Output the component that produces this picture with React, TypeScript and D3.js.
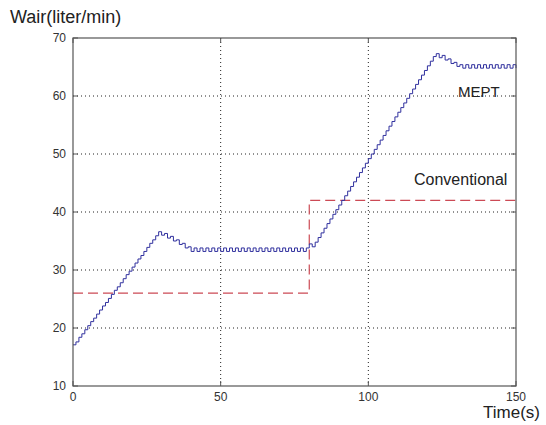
import { useEffect, useRef } from 'react';
import * as d3 from 'd3';

// sample times (s), one sample per second
const sampleTimes = d3.range(0, 151);

// MEPT air flow, liter/min, read at each second
const meptFlow = [
  17.1, 17.6, 18.4, 19.0, 19.7, 20.4, 21.1, 21.7, 22.4, 23.1,
  23.8, 24.4, 25.1, 25.8, 26.5, 27.1, 27.8, 28.5, 29.2, 29.8,
  30.5, 31.2, 31.9, 32.5, 33.2, 33.9, 34.6, 35.2, 35.9, 36.6,
  36.0, 36.3, 35.5, 35.8, 35.0, 35.2, 34.4, 34.6, 33.8, 34.0, 33.2,
  33.8, 33.2, 33.8, 33.2, 33.8, 33.2, 33.8, 33.2, 33.8, 33.2,
  33.8, 33.2, 33.8, 33.2, 33.8, 33.2, 33.8, 33.2, 33.8, 33.2,
  33.8, 33.2, 33.8, 33.2, 33.8, 33.2, 33.8, 33.2, 33.8, 33.2,
  33.8, 33.2, 33.8, 33.2, 33.8, 33.2, 33.8, 33.2, 33.8,
  34.5, 34.0,
  34.8, 35.6, 36.4, 37.2, 38.0, 38.8, 39.6, 40.4, 41.2, 42.0,
  42.8, 43.6, 44.4, 45.2, 46.0, 46.8, 47.6, 48.4, 49.2, 50.0,
  50.8, 51.6, 52.4, 53.2, 54.0, 54.8, 55.6, 56.4, 57.2, 58.0,
  58.8, 59.6, 60.4, 61.2, 62.0, 62.8, 63.6, 64.4, 65.2, 66.0, 66.8,
  67.3,
  66.6, 67.0, 66.2, 66.4, 65.6, 65.8, 65.1,
  65.4, 64.8, 65.4, 64.8, 65.4, 64.8, 65.4, 64.8, 65.4, 64.8,
  65.4, 64.8, 65.4, 64.8, 65.4, 64.8, 65.4, 64.8, 65.4, 64.8,
];

// Conventional control: step change at 80 s
const convTimes = [0, 80, 80, 150];
const convFlow = [26, 26, 42, 42];

const xTicks = [0, 50, 100, 150];
const yTicks = [10, 20, 30, 40, 50, 60, 70];

const App = () => {
  const svgRef = useRef<SVGSVGElement>(null);

  useEffect(() => {
    document.body.style.margin = '0';
    const svg = d3.select(svgRef.current);
    svg.selectAll('*').remove();

    const left = 73, right = 516, top = 38, bottom = 386;
    const x = d3.scaleLinear().domain([0, 150]).range([left, right]);
    const y = d3.scaleLinear().domain([10, 70]).range([bottom, top]);
    const font = 'Arial, "Liberation Sans", sans-serif';
    const axisColor = '#555';

    // grid
    const grid = svg.append('g').attr('stroke', '#222').attr('stroke-dasharray', '1,3');
    xTicks.slice(1, -1).forEach((t) => {
      grid.append('line').attr('x1', x(t)).attr('x2', x(t)).attr('y1', top).attr('y2', bottom);
    });
    yTicks.slice(1, -1).forEach((t) => {
      grid.append('line').attr('y1', y(t)).attr('y2', y(t)).attr('x1', left).attr('x2', right);
    });

    // ticks inside box
    const ticks = svg.append('g').attr('stroke', axisColor);
    xTicks.forEach((t) => {
      ticks.append('line').attr('x1', x(t)).attr('x2', x(t)).attr('y1', bottom).attr('y2', bottom - 5);
      ticks.append('line').attr('x1', x(t)).attr('x2', x(t)).attr('y1', top).attr('y2', top + 5);
    });
    yTicks.forEach((t) => {
      ticks.append('line').attr('y1', y(t)).attr('y2', y(t)).attr('x1', left).attr('x2', left + 5);
      ticks.append('line').attr('y1', y(t)).attr('y2', y(t)).attr('x1', right).attr('x2', right - 5);
    });

    // conventional (red dashed)
    const convLine = d3
      .line<number>()
      .x((_, i) => x(convTimes[i]))
      .y((d) => y(d));
    svg
      .append('path')
      .datum(convFlow)
      .attr('fill', 'none')
      .attr('stroke', '#cc4a55')
      .attr('stroke-width', 1.2)
      .attr('stroke-dasharray', '10,5')
      .attr('d', convLine);

    // MEPT (blue stepped)
    const meptLine = d3
      .line<number>()
      .x((_, i) => x(sampleTimes[i]))
      .y((d) => y(d))
      .curve(d3.curveStepAfter);
    svg
      .append('path')
      .datum(meptFlow)
      .attr('fill', 'none')
      .attr('stroke', '#30309e')
      .attr('stroke-width', 1)
      .attr('d', meptLine);

    // box
    svg
      .append('rect')
      .attr('x', left)
      .attr('y', top)
      .attr('width', right - left)
      .attr('height', bottom - top)
      .attr('fill', 'none')
      .attr('stroke', axisColor)
      .attr('stroke-width', 1.2);

    // tick labels
    xTicks.forEach((t) => {
      svg
        .append('text')
        .attr('x', x(t))
        .attr('y', bottom + 15)
        .attr('text-anchor', 'middle')
        .attr('font-family', font)
        .attr('font-size', 12)
        .attr('fill', '#333')
        .text(t);
    });
    yTicks.forEach((t) => {
      svg
        .append('text')
        .attr('x', left - 7)
        .attr('y', y(t) + 4)
        .attr('text-anchor', 'end')
        .attr('font-family', font)
        .attr('font-size', 12)
        .attr('fill', '#333')
        .text(t);
    });

    // axis titles
    svg
      .append('text')
      .attr('x', 10)
      .attr('y', 23)
      .attr('font-family', font)
      .attr('font-size', 18)
      .attr('fill', '#222')
      .text('Wair(liter/min)');
    svg
      .append('text')
      .attr('x', 483)
      .attr('y', 418)
      .attr('font-family', font)
      .attr('font-size', 17)
      .attr('fill', '#222')
      .text('Time(s)');

    // series labels
    svg
      .append('text')
      .attr('x', 458)
      .attr('y', 97)
      .attr('font-family', font)
      .attr('font-size', 15)
      .attr('fill', '#222')
      .text('MEPT');
    svg
      .append('text')
      .attr('x', 414)
      .attr('y', 185)
      .attr('font-family', font)
      .attr('font-size', 16)
      .attr('fill', '#222')
      .text('Conventional');
  }, []);

  return <svg ref={svgRef} width={546} height={425} style={{ display: 'block' }} />;
};

export default App;
